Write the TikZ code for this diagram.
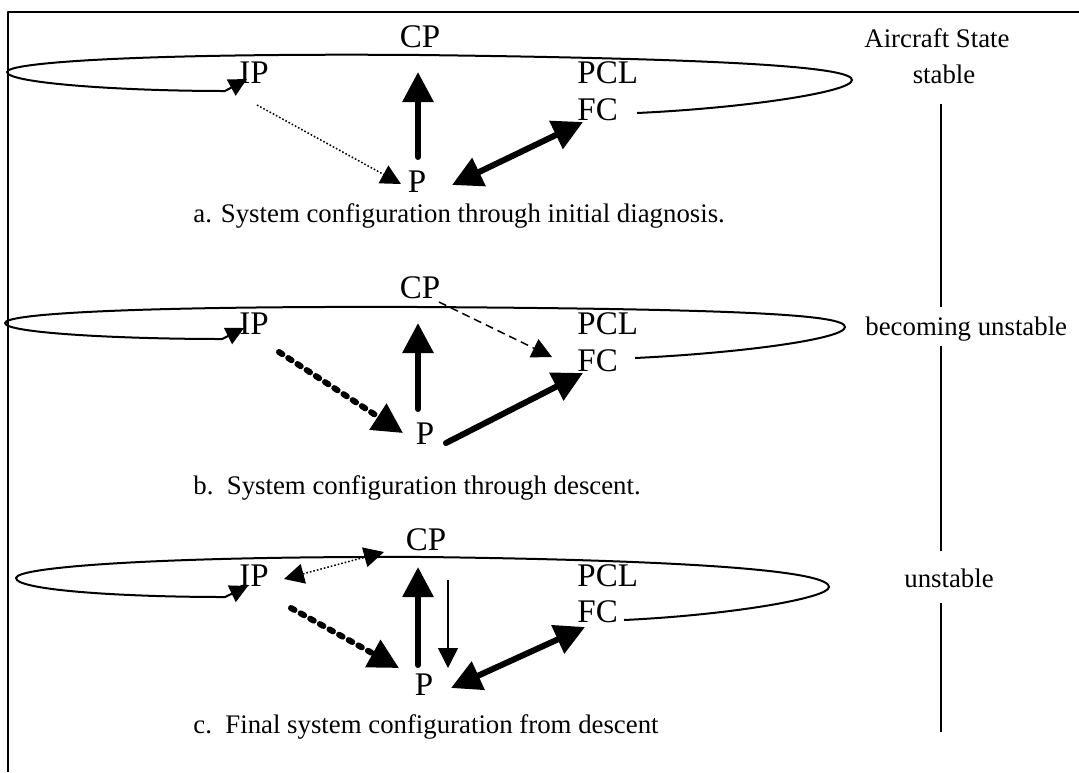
\documentclass[tikz,border=0pt]{standalone}
\usepackage{fontspec}
\setmainfont{Liberation Serif}
\usetikzlibrary{arrows.meta,calc}

\begin{document}
\begin{tikzpicture}[
  x=0.5pt,
  y=-0.5pt,
  line join=round,
  lbl/.style={font=\fontsize{16.5}{19}\selectfont,inner sep=0pt,anchor=base},
  lblw/.style={lbl,anchor=base west},
  captxt/.style={font=\fontsize{13.4}{16}\selectfont,inner sep=0pt,anchor=base},
  captxtw/.style={captxt,anchor=base west},
  boxline/.style={draw,line width=1pt},
  stateline/.style={draw,line width=1pt},
  loopline/.style={draw,line width=1pt,-{Triangle[length=9pt,width=9pt]}},
  fat/.style={draw,line width=3pt,line cap=round,-{Triangle[length=15pt,width=15pt]}},
  fatboth/.style={fat,{Triangle[length=15pt,width=15pt]}-{Triangle[length=15pt,width=15pt]}},
  fatdash/.style={fat,dash pattern=on 2pt off 3.5pt},
  slim/.style={draw,line width=0.75pt,-{Triangle[length=10pt,width=10pt]}},
  slimdash/.style={slim,dash pattern=on 4pt off 2.5pt},
  slimdot/.style={slim,dash pattern=on 0.8pt off 1pt},
  slimdotboth/.style={slimdot,{Triangle[length=10pt,width=10pt]}-{Triangle[length=10pt,width=10pt]}}
]
  % Page frame of the original figure (open on the right and at the bottom).
  \useasboundingbox (0,0) rectangle (1079,772);
  \draw[boxline] (1079,12) -- (8,12) -- (8,772);

  % a. Initial diagnosis.
  \node[lbl] (CPa) at (420,47) {CP};
  \node[lbl] (IPa) at (254,83) {IP};
  \node[lblw] (PCLa) at (577,83) {PCL};
  \node[lblw] (FCa) at (577,120) {FC};
  \node[lbl] (Pa) at (417,192) {P};
  \node[captxtw] (capa) at (193,222) {a. System configuration through initial diagnosis.};

  \draw[loopline] ($(FCa.base west)+(60,-7)$) .. controls (745,108) and (852,92) .. (852,80)
    .. controls (852,68) and (750,59) .. (420,55)
    .. controls (150,53) and (7,62) .. (7,72)
    .. controls (7,83) and (120,91) .. (225,91) -- ($(IPa.base)+(-7,-4)$);
  \draw[fat] ($(Pa.base)+(1,-35)$) -- ($(CPa.base)+(-2,25)$);
  \draw[slimdot] ($(IPa.base)+(3,22)$) -- ($(Pa.base)+(-16,-8)$);
  \draw[fatboth] ($(Pa.base)+(35,-7)$) -- ($(FCa.base west)+(6,2)$);

  % b. Descent.
  \node[lbl] (CPb) at (420,298) {CP};
  \node[lbl] (IPb) at (254,334) {IP};
  \node[lblw] (PCLb) at (577,334) {PCL};
  \node[lblw] (FCb) at (577,371) {FC};
  \node[lbl] (Pb) at (425,444) {P};
  \node[captxtw] (capb) at (193,494) {b.~~System configuration through descent.};

  \draw[loopline] ($(FCb.base west)+(58,-13)$) .. controls (740,353) and (845,339) .. (845,327)
    .. controls (845,315) and (750,309) .. (420,307)
    .. controls (150,306) and (5,313) .. (5,323)
    .. controls (5,333) and (120,339) .. (222,339) -- ($(IPb.base)+(-10,-6)$);
  \draw[fatdash] ($(IPb.base)+(25,18)$) -- ($(Pb.base)+(-22,-11)$);
  \draw[fat] ($(Pb.base)+(-7,-35)$) -- ($(CPb.base)+(-2,25)$);
  \draw[fat] ($(Pb.base)+(21,-1)$) -- ($(FCb.base west)+(6,2)$);
  \draw[slimdash] ($(CPb.base)+(19,4)$) -- ($(PCLb.base west)+(-25,23)$);

  % c. Final configuration.
  \node[lbl] (CPc) at (426,550) {CP};
  \node[lbl] (IPc) at (254,586) {IP};
  \node[lblw] (PCLc) at (577,586) {PCL};
  \node[lblw] (FCc) at (577,622) {FC};
  \node[lbl] (Pc) at (424,695) {P};
  \node[captxtw] (capc) at (193,733) {c.~~Final system configuration from descent};

  \draw[loopline] ($(FCc.base west)+(47,-2)$) .. controls (730,615) and (829,598) .. (829,587)
    .. controls (829,574) and (740,561) .. (426,557)
    .. controls (160,556) and (16,567) .. (16,578)
    .. controls (16,590) and (120,597) .. (225,597) -- ($(IPc.base)+(-6,0)$);
  \draw[slimdotboth] ($(IPc.base)+(30,-7)$) -- ($(CPc.base)+(-42,2)$);
  \draw[fatdash] ($(IPc.base)+(37,22)$) -- ($(Pc.base)+(-25,-27)$);
  \draw[fat] ($(Pc.base)+(-6,-30)$) -- ($(CPc.base)+(-8,17)$);
  \draw[slim] ($(CPc.base)+(22,30)$) -- ($(Pc.base)+(24,-27)$);
  \draw[fatboth] ($(Pc.base)+(27,-7)$) -- ($(FCc.base west)+(8,5)$);

  % Aircraft state column.
  \node[captxtw] (state) at (864,47) {Aircraft State};
  \node[captxt] (stable) at (944,83) {stable};
  \node[captxtw] (becoming) at (865,335) {becoming unstable};
  \node[captxt] (unstable) at (949,587) {unstable};
  \coordinate (stateend) at (941,732);
  \draw[stateline] ($(stable.south -| stateend)+(0,20)$) -- ($(becoming.north -| stateend)+(0,-9)$);
  \draw[stateline] ($(becoming.south -| stateend)+(0,5)$) -- ($(unstable.north -| stateend)+(0,-17)$);
  \draw[stateline] ($(unstable.south -| stateend)+(0,15)$) -- (stateend);
\end{tikzpicture}
\end{document}
